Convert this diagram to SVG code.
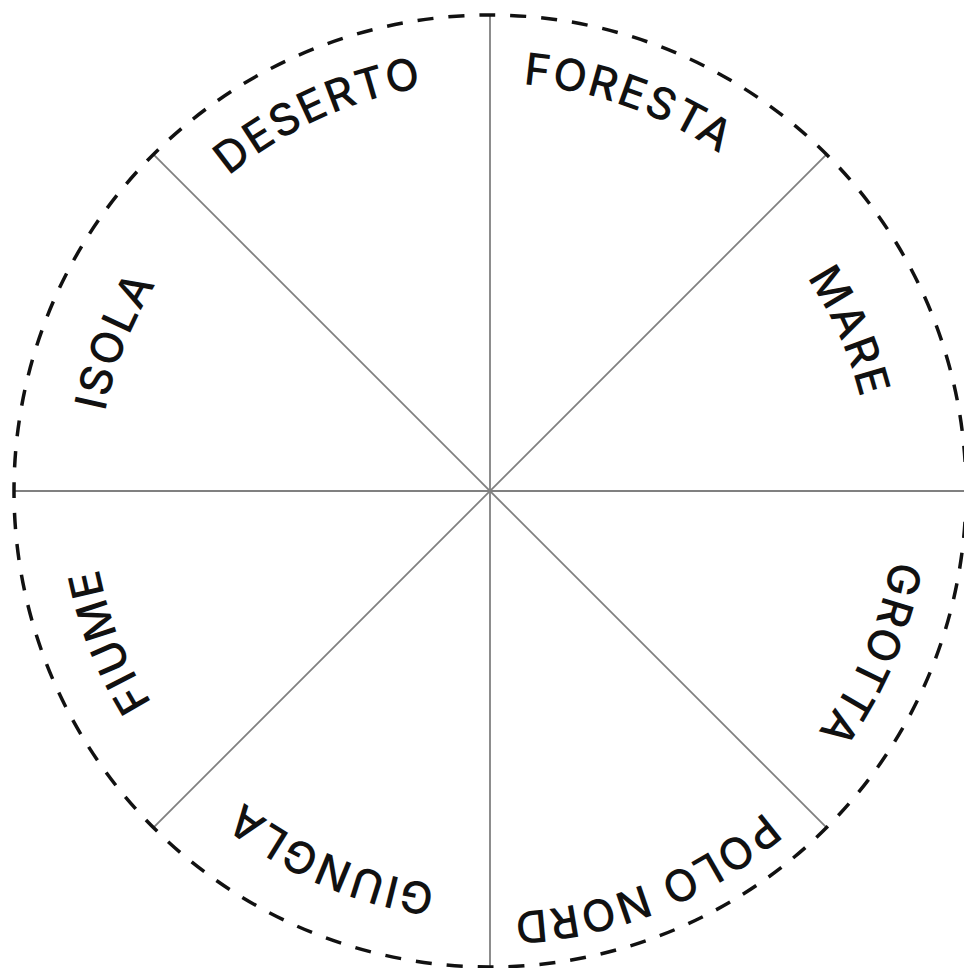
<svg xmlns="http://www.w3.org/2000/svg" width="964" height="968" viewBox="0 0 964 968">
<style>
.rim{fill:none;stroke:#111;stroke-width:3.5;stroke-dasharray:16 15}
.spoke{stroke:#808080;stroke-width:1.8}
.lbl{font-family:Inter,"Liberation Sans",sans-serif;font-size:44px;font-weight:500;fill:#111;letter-spacing:2px}
</style>
<defs>
<path id="a409" d="M 87.21 419.98 A 409 409 0 0 1 892.79 419.98"/>
<path id="a408" d="M 88.20 420.15 A 408 408 0 0 1 891.80 420.15"/>
<path id="a382" d="M 113.80 424.67 A 382 382 0 0 1 866.20 424.67"/>
<path id="a407" d="M 89.18 420.32 A 407 407 0 0 1 890.82 420.32"/>
<path id="a422" d="M 74.41 417.72 A 422 422 0 0 1 905.59 417.72"/>
<path id="a397" d="M 99.03 422.06 A 397 397 0 0 1 880.97 422.06"/>
<path id="a399" d="M 97.06 421.71 A 399 399 0 0 1 882.94 421.71"/>
<path id="a393" d="M 102.97 422.76 A 393 393 0 0 1 877.03 422.76"/>
</defs>
<rect width="964" height="968" fill="#fff"/>
<g id="connectors">
<line class="spoke" x1="490" y1="15" x2="490" y2="967"/>
<line class="spoke" x1="14" y1="491" x2="966" y2="491"/>
<line class="spoke" x1="153.4" y1="154.4" x2="826.6" y2="827.6"/>
<line class="spoke" x1="826.6" y1="154.4" x2="153.4" y2="827.6"/>
</g>
<g id="rim"><circle class="rim" cx="490" cy="491" r="476"/></g>
<g id="deserto" transform="rotate(-24.5 490 491)"><text class="lbl" text-anchor="middle"><textPath href="#a409" startOffset="50%">DESERTO</textPath></text></g>
<g id="foresta" transform="rotate(19.6 490 491)"><text class="lbl" text-anchor="middle"><textPath href="#a408" startOffset="50%">FORESTA</textPath></text></g>
<g id="mare" transform="rotate(66.1 490 491)"><text class="lbl" text-anchor="middle"><textPath href="#a382" startOffset="50%">MARE</textPath></text></g>
<g id="grotta" transform="rotate(113.2 490 491)"><text class="lbl" text-anchor="middle"><textPath href="#a407" startOffset="50%">GROTTA</textPath></text></g>
<g id="polonord" transform="rotate(158.2 490 491)"><text class="lbl" text-anchor="middle"><textPath href="#a422" startOffset="50%">POLO NORD</textPath></text></g>
<g id="giungla" transform="rotate(203.3 490 491)"><text class="lbl" text-anchor="middle"><textPath href="#a397" startOffset="50%">GIUNGLA</textPath></text></g>
<g id="fiume" transform="rotate(248.5 490 491)"><text class="lbl" text-anchor="middle"><textPath href="#a399" startOffset="50%">FIUME</textPath></text></g>
<g id="isola" transform="rotate(291.8 490 491)"><text class="lbl" text-anchor="middle"><textPath href="#a393" startOffset="50%">ISOLA</textPath></text></g>
</svg>
